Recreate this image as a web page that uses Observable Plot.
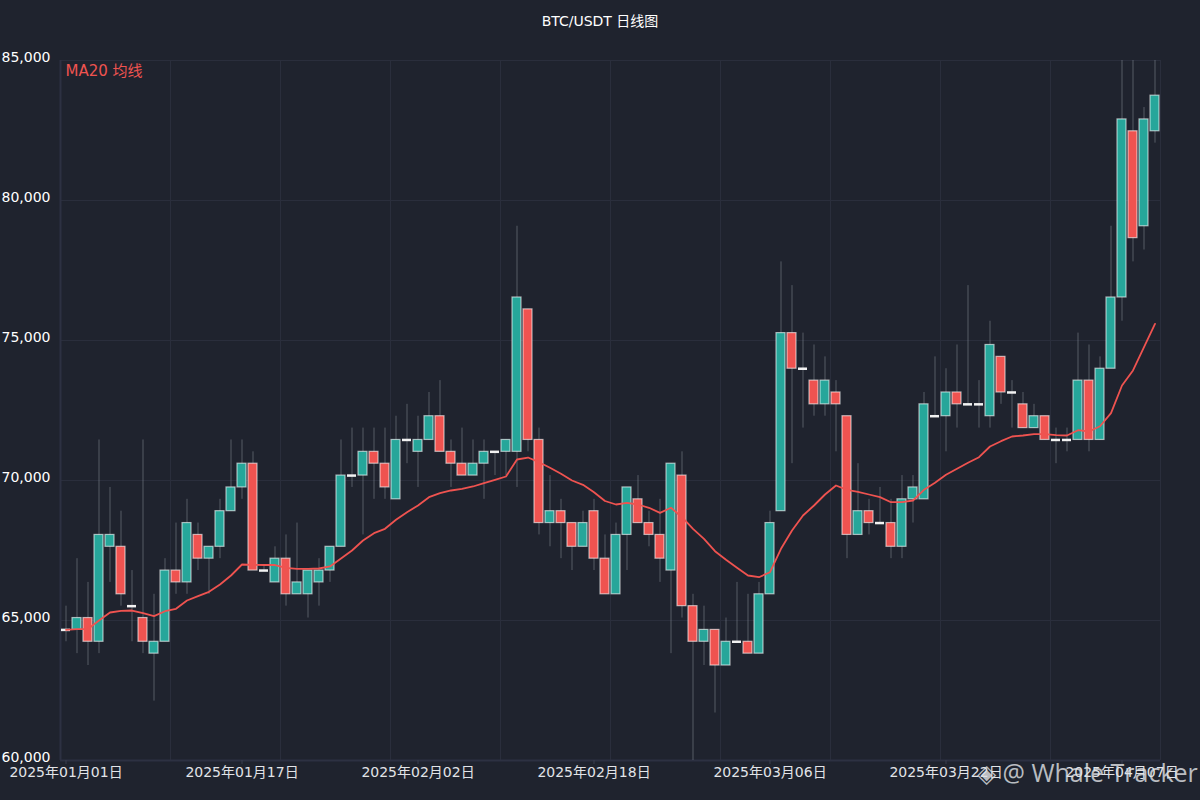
<!DOCTYPE html>
<html>
<head>
<meta charset="utf-8">
<script src="https://cdn.jsdelivr.net/npm/d3@7"></script>
<script src="https://cdn.jsdelivr.net/npm/@observablehq/plot@0.6"></script>
<style>
  html, body { margin: 0; padding: 0; background: #1f232e; }
  #wrap { position: relative; width: 1200px; height: 800px; overflow: hidden; background: #1f232e; font-family: "DejaVu Sans", "Noto Sans CJK SC", sans-serif; }
  #title { height: 40px; line-height: 42px; text-align: center; color: #ffffff; font-size: 14px; font-family: "DejaVu Sans", "Noto Sans CJK SC", sans-serif; }
  #wm { position: absolute; left: 977px; top: 755px; color: rgba(222,224,228,0.82); font-family: "Open Sans", "Noto Sans", sans-serif; font-size: 25px; white-space: nowrap; }
</style>
</head>
<body>
<div id="wrap">
  <div id="title"></div>
  <div id="chart"></div>
  <div id="wm">◈ @ Whale Tracker</div>
</div>
<script>
const titleText = "BTC/USDT 日线图";
const legendText = "MA20 均线";

const open = [64664,64664,65088,64240,67632,67632,65512,65088,63816,64240,
66784,66360,68056,67208,67632,68904,69752,70600,66784,66360,
67208,65936,65936,66360,66784,67632,70176,70176,71024,70600,
69328,71448,71024,71448,72296,71024,70600,70176,70600,71024,
71024,71024,76112,71448,68480,68904,68480,67632,68904,67208,
65936,68056,69328,68480,68056,66784,70176,65512,64240,64664,
63392,64240,64240,63816,65936,68904,75264,73992,73568,72720,
73144,72296,68056,68904,68480,68480,67632,69328,69328,72296,
72296,73144,72720,72720,72296,74416,73144,72720,71872,72296,
71448,71448,71448,73568,71448,73992,76536,82472,79080,82472];

const high = [65512,67208,66360,71448,69752,68904,66784,71448,65936,67208,
68480,69328,68480,67632,69328,71448,71448,71024,66996,67632,
68056,68480,66784,67208,67632,71448,71872,71872,71872,71872,
72296,72720,72296,73144,73568,71448,71872,71448,71448,71024,
71448,79080,76112,71872,70176,69328,68480,68904,69328,68056,
68480,69752,70176,68904,69328,70600,71024,65936,65512,64664,
65088,66360,65936,66360,68904,77808,76960,75264,74840,74416,
73568,72296,70600,69328,69752,69328,70176,70176,73144,74416,
73992,74840,76960,73568,75688,74416,73568,73144,72720,72296,
71872,71872,75264,74840,74416,79080,85000,85000,83320,85000];

const low = [64240,63816,63392,63816,66360,65512,64240,63816,62120,64240,
65936,65936,66784,65936,67208,68904,69328,66784,66784,66360,
65512,65936,65088,65512,66360,67632,69752,68056,69328,69328,
69328,70600,69752,71448,71024,69752,70176,70176,69328,70176,
70176,69752,71024,68056,67632,67208,66784,67632,66784,65936,
65936,66784,68480,67632,66360,63816,65088,60000,63392,61696,
63392,64240,63816,63816,65936,68904,70600,71872,72296,72296,
71024,67208,68056,68056,68480,67208,67208,68480,69328,72296,
71024,71872,72720,71872,71872,72720,71872,71872,71872,71448,
70600,71024,71448,71024,71448,73992,75688,77808,78232,82048];

const close = [64664,65088,64240,68056,68056,65936,65512,64240,64240,66784,
66360,68480,67208,67632,68904,69752,70600,66784,66784,67208,
65936,66360,66784,66784,67632,70176,70176,71024,70600,69752,
71448,71448,71448,72296,71024,70600,70176,70600,71024,71024,
71448,76536,71448,68480,68904,68480,67632,68480,67208,65936,
68056,69752,68480,68056,67208,70600,65512,64240,64664,63392,
64240,64240,63816,65936,68480,75264,73992,73992,72720,73568,
72720,68056,68904,68480,68480,67632,69328,69752,72720,72296,
73144,72720,72720,72720,74840,73144,73144,71872,72296,71448,
71448,71448,73568,71448,73992,76536,82896,78656,82896,83744];

const ma = [64668,64689,64696,65000,65286,65346,65357,65261,65154,65332,
65418,65714,65868,66025,66286,66607,67000,66989,66982,66982,
66882,66846,66846,66857,66929,67214,67500,67857,68118,68275,
68596,68868,69107,69404,69546,69643,69703,69786,69904,70025,
70143,70750,70821,70654,70453,70239,70000,69846,69582,69268,
69143,69203,69143,69025,68846,69025,68689,68275,67918,67475,
67168,66882,66607,66546,66725,67561,68214,68750,69107,69500,
69821,69668,69596,69500,69404,69225,69225,69286,69668,69918,
70204,70418,70632,70832,71214,71404,71571,71607,71654,71654,
71618,71607,71796,71750,71939,72404,73393,73929,74761,75596];

const yTicks = [60000, 65000, 70000, 75000, 80000, 85000];
const yTickLabels = ["60,000", "65,000", "70,000", "75,000", "80,000", "85,000"];
const xTicks = [0, 16, 32, 48, 64, 80, 96];
const xTickLabels = ["2025年01月01日", "2025年01月17日", "2025年02月02日", "2025年02月18日", "2025年03月06日", "2025年03月22日", "2025年04月07日"];

const UP = "#26a69a", DOWN = "#ef5350";
const rows = open.map((o, i) => ({i, open: o, high: high[i], low: low[i], close: close[i], ma: ma[i]}));
const bodies = rows.filter(d => d.open !== d.close);
const dojis = rows.filter(d => d.open === d.close);
const yLab = new Map(yTicks.map((t, k) => [t, yTickLabels[k]]));
const xLab = new Map(xTicks.map((t, k) => [t, xTickLabels[k]]));
const vGrid = d3.range(0, rows.length + 1, 10).map(v => v - 0.5);

document.getElementById("title").textContent = titleText;

const chart = Plot.plot({
  width: 1200,
  height: 760,
  marginTop: 20,
  marginBottom: 40,
  marginLeft: 60,
  marginRight: 40,
  style: {background: "transparent", color: "#ffffff", fontFamily: "DejaVu Sans, Noto Sans CJK SC, sans-serif", overflow: "visible"},
  x: {domain: [-0.5, rows.length - 0.5], axis: null},
  y: {domain: [60000, 85000], axis: null},
  color: {type: "identity"},
  marks: [
    Plot.ruleX(vGrid, {stroke: "#2a2e3c", strokeWidth: 1}),
    Plot.ruleY(yTicks, {stroke: "#2a2e3c", strokeWidth: 1}),
    Plot.ruleX([-0.5], {stroke: "#2d3142", strokeWidth: 2}),
    Plot.ruleY([60000], {stroke: "#2d3142", strokeWidth: 2}),
    Plot.axisY(yTicks, {label: null, tickSize: 0, tickPadding: 10, fontSize: 14, fill: "#ffffff", dy: -3, tickFormat: d => yLab.get(d)}),
    Plot.axisX(xTicks, {label: null, tickSize: 4, tickPadding: 3, stroke: "#3a3e4e", fontSize: 14, fill: "#e2e4e8", tickFormat: d => xLab.get(d)}),
    Plot.ruleX(rows, {x: "i", y1: "low", y2: "high", stroke: "#9aa0aa", strokeOpacity: 0.45, strokeWidth: 1}),
    Plot.rect(bodies, {
      x1: d => d.i - 0.5, x2: d => d.i + 0.5, y1: "open", y2: "close",
      insetLeft: 1, insetRight: 1,
      fill: d => d.close > d.open ? UP : DOWN,
      stroke: "#ffffff", strokeOpacity: 0.6, strokeWidth: 1.2
    }),
    Plot.ruleY(dojis, {y: "close", x1: d => d.i - 0.5, x2: d => d.i + 0.5, insetLeft: 1, insetRight: 1, stroke: "#f2f2f2", strokeWidth: 2.5}),
    Plot.line(rows, {x: "i", y: "ma", stroke: DOWN, strokeWidth: 1.8}),
    Plot.text([legendText], {frameAnchor: "top-left", dx: 5, dy: 5, fill: DOWN, fontSize: 15, textAnchor: "start", lineAnchor: "top"})
  ]
});
document.getElementById("chart").appendChild(chart);
</script>
</body>
</html>
